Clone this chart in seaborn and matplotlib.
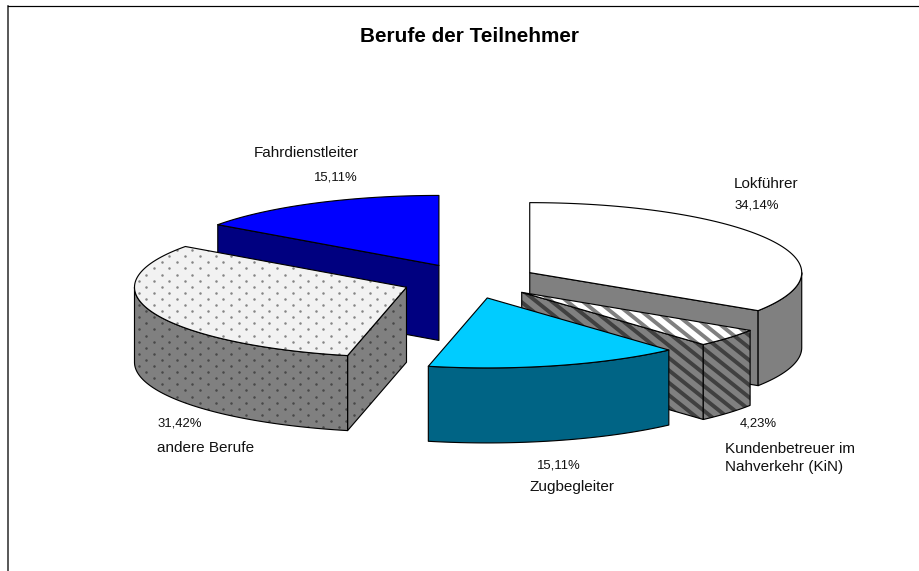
import numpy as np
import pandas as pd
import matplotlib
matplotlib.use("Agg")
import matplotlib.pyplot as plt
from matplotlib.patches import Polygon
import seaborn as sns

berufe = ["Lokführer", "Kundenbetreuer im\nNahverkehr (KiN)", "Zugbegleiter", "andere Berufe", "Fahrdienstleiter"]
anteile = [34.14, 4.23, 15.11, 31.42, 15.11]
anteil_labels = ["34,14%", "4,23%", "15,11%", "31,42%", "15,11%"]
titel = "Berufe der Teilnehmer"

top_colors = ["#FFFFFF", "#FFFFFF", "#00CCFF", "#F2F2F2", "#0000FF"]
side_colors = ["#808080", "#808080", "#006485", "#808080", "#000080"]
muster = [None, "stripes", None, "dots", None]
top_muster_colors = [None, "#808080", None, "#858585", None]
side_muster_colors = [None, "#404040", None, "#484848", None]
draw_order = [4, 0, 1, 3, 2]

# where the text sits, in pixels of the picture
name_pos = [(734, 184), (725, 458), (530, 487), (157, 448), (254, 153)]
pct_pos = [(735, 206), (740, 424), (537, 465), (158, 424), (314, 177)]

DPI = 100
PT = 72 / DPI  # one pixel in points
cx, cy = 470, 281
rx, ry = 272, 70
depth = 75
explode = 0.25

sns.set_theme(style="white")
plt.rcParams["font.family"] = ["Liberation Sans", "DejaVu Sans"]

df = pd.DataFrame({"beruf": berufe, "anteil": anteile})
df["start"] = df["anteil"].cumsum().shift(fill_value=0) / df["anteil"].sum() * 360
df["end"] = df["anteil"].cumsum() / df["anteil"].sum() * 360

fig = plt.figure(figsize=(920 / DPI, 571 / DPI), dpi=DPI)
ax = fig.add_axes([8 / 920, 0, 912 / 920, 565 / 571])
ax.set_xlim(8, 920)
ax.set_ylim(571, 6)
ax.set_xticks([])
ax.set_yticks([])
ax.patch.set_alpha(0)
ax.spines["right"].set_visible(False)
ax.spines["bottom"].set_visible(False)
ax.spines["top"].set_color("black")
ax.spines["left"].set_color("#333333")
ax.spines["top"].set_linewidth(1.2 * PT)
ax.spines["left"].set_linewidth(1.6 * PT)


def arc(x0, y0, a, b):
    t = np.radians(np.linspace(a, b, 80))
    return np.column_stack([x0 + rx * np.sin(t), y0 - ry * np.cos(t)])


def draw_muster(poly, kind, color, z):
    # fill pattern, cut to the face by its clip path
    if kind == "dots":
        gx, gy = np.meshgrid(np.arange(0, 920, 15.4), np.arange(0, 571, 6.1))
        rows = np.arange(gy.shape[0])
        gx = gx + (rows[:, None] % 2) * 7.7
        pts = ax.scatter(gx.ravel(), gy.ravel(), s=(2.5 * PT) ** 2, color=color, linewidths=0, zorder=z)
        pts.set_clip_path(poly)
    elif kind == "stripes":
        for k in np.arange(-600, 920, 15.5):
            line, = ax.plot([k, k + 700], [0, 560], color=color, lw=3.9 * PT, zorder=z, solid_capstyle="butt")
            line.set_clip_path(poly)


def face(pts, fill, kind=None, color=None, z=1):
    poly = Polygon(pts, closed=True, facecolor=fill, edgecolor="none", lw=0, zorder=z)
    ax.add_patch(poly)
    if kind:
        draw_muster(poly, kind, color, z)
    ax.add_patch(Polygon(pts, closed=True, facecolor="none", edgecolor="black", lw=1.15 * PT, zorder=z, joinstyle="round"))


z = 1
for i in draw_order:
    a, b = df.loc[i, "start"], df.loc[i, "end"]
    mid = np.radians((a + b) / 2)
    x0 = cx + explode * rx * np.sin(mid)
    y0 = cy - explode * ry * np.cos(mid)
    apex = np.array([x0, y0])
    down = np.array([0, depth])

    # cut faces that look towards the viewer
    for ang, visible in [(a, np.sin(np.radians(a)) < -1e-6), (b, np.sin(np.radians(b)) > 1e-6)]:
        if visible:
            rim_pt = arc(x0, y0, ang, ang)[0]
            face([apex, rim_pt, rim_pt + down, apex + down], side_colors[i], muster[i], side_muster_colors[i], z)
            z += 1

    # outer rim, front half only
    r0, r1 = max(a, 90), min(b, 270)
    if r1 > r0:
        top_arc = arc(x0, y0, r0, r1)
        face(np.vstack([top_arc, (top_arc + down)[::-1]]), side_colors[i], muster[i], side_muster_colors[i], z)
        z += 1

    face(np.vstack([apex, arc(x0, y0, a, b)]), top_colors[i], muster[i], top_muster_colors[i], z)
    z += 1

ax.set_xlim(8, 920)
ax.set_ylim(571, 6)

for i in range(len(berufe)):
    ax.text(name_pos[i][0], name_pos[i][1], berufe[i], fontsize=15.2 * PT, color="#111111", va="center", ha="left", linespacing=1.45, zorder=50)
    ax.text(pct_pos[i][0], pct_pos[i][1], anteil_labels[i], fontsize=13.1 * PT, color="#111111", va="center", ha="left", zorder=50)

ax.text(470, 37, titel, fontsize=20.8 * PT, fontweight="bold", color="black", ha="center", va="center", zorder=50)

fig.savefig("out.png", dpi=DPI, facecolor="white")
